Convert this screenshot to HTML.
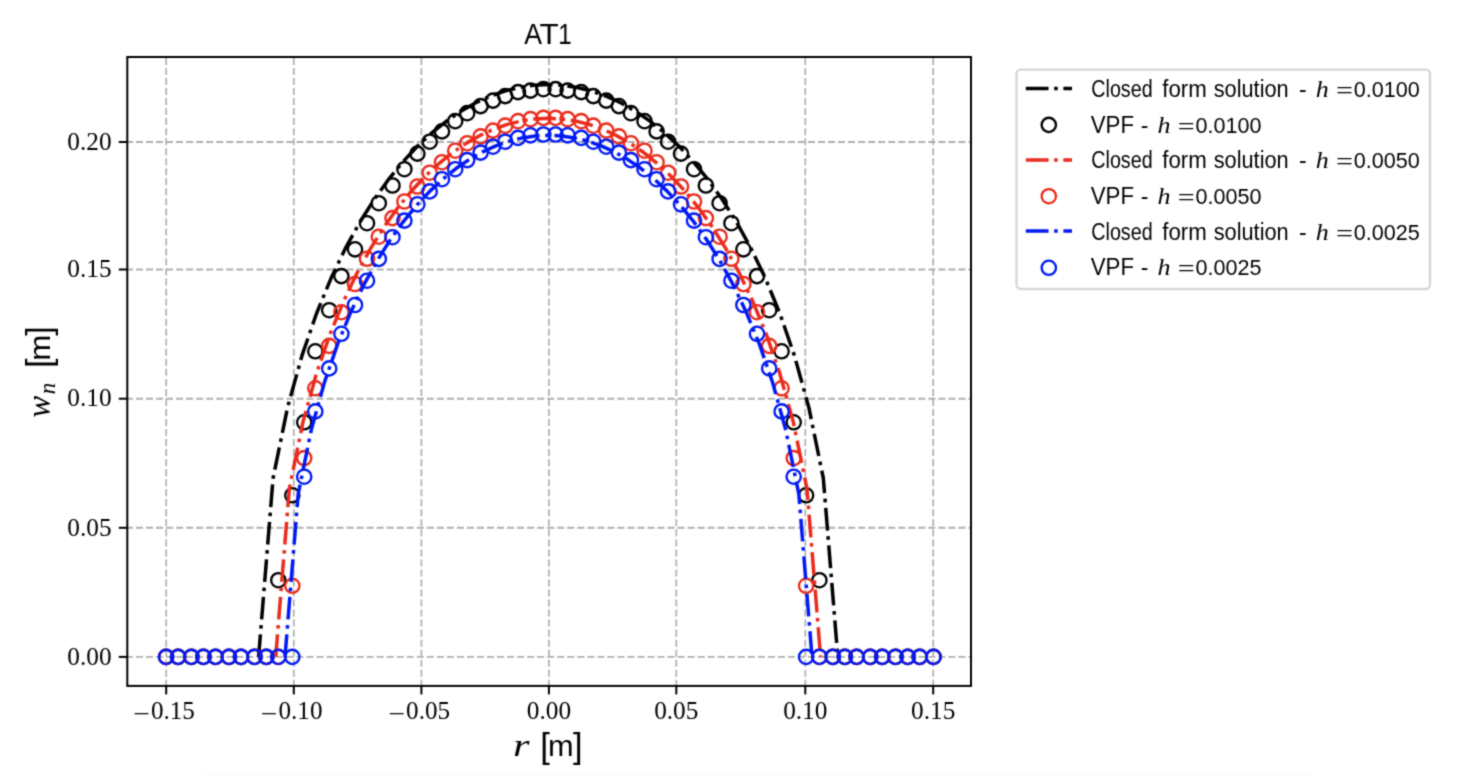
<!DOCTYPE html>
<html lang="en"><head><meta charset="utf-8"><title>AT1</title>
<style>html,body{margin:0;padding:0;background:#fff;overflow:hidden}svg{display:block}</style></head>
<body>
<svg width="1462" height="776" viewBox="0 0 1462 776">
<defs><filter id="soft" x="0" y="0" width="1462" height="776" filterUnits="userSpaceOnUse" color-interpolation-filters="sRGB"><feConvolveMatrix order="3" kernelMatrix="0.03108 0.11414 0.03108 0.11414 0.41911 0.11414 0.03108 0.11414 0.03108" edgeMode="duplicate" preserveAlpha="true"/></filter></defs>
<g filter="url(#soft)">
<rect x="0" y="0" width="1462" height="776" fill="#ffffff"/>
<path d="M198 776Q206 771 242 770.8H1300Q1314 771 1316 776Z" fill="#fdfdfd"/>
<g stroke="#b0b0b0" stroke-width="1.7" stroke-dasharray="7 3.03" stroke-dashoffset="0.9" fill="none">
<path d="M166.2 685.9V57.0"/>
<path d="M293.8 685.9V57.0"/>
<path d="M421.4 685.9V57.0"/>
<path d="M548.9 685.9V57.0"/>
<path d="M676.3 685.9V57.0"/>
<path d="M805.3 685.9V57.0"/>
<path d="M933.2 685.9V57.0"/>
</g>
<g stroke="#b0b0b0" stroke-width="1.9" stroke-dasharray="7 3.03" stroke-dashoffset="1.35" fill="none">
<path d="M127.3 656.9H971.0"/>
<path d="M127.3 527.8H971.0"/>
<path d="M127.3 398.7H971.0"/>
<path d="M127.3 269.5H971.0"/>
<path d="M127.3 142.0H971.0"/>
</g>
<g clip-path="url(#axclip)">
<polyline points="258.60,656.90 273.08,478.20 287.56,407.44 302.04,355.42 316.52,313.51 331.00,278.35 345.48,248.19 359.96,221.98 374.44,199.05 388.92,178.93 403.40,161.26 417.88,145.81 432.36,132.37 446.84,120.79 461.32,110.95 475.80,102.76 490.28,96.15 504.76,91.06 519.24,87.46 533.72,85.30 548.20,84.59 562.68,85.30 577.16,87.46 591.64,91.06 606.12,96.15 620.60,102.76 635.08,110.95 649.56,120.79 664.04,132.37 678.52,145.81 693.00,161.26 707.48,178.93 721.96,199.05 736.44,221.98 750.92,248.19 765.40,278.35 779.88,313.51 794.36,355.42 808.84,407.44 823.32,478.20 837.80,656.90" fill="none" stroke="#000000" stroke-width="3.5" stroke-dasharray="22.7 5.67 3.55 5.67" stroke-linejoin="round"/>
<g fill="none" stroke="#000000" stroke-width="2.35">
<circle cx="166.1" cy="656.9" r="7.15"/>
<circle cx="178.1" cy="656.9" r="7.15"/>
<circle cx="191.4" cy="656.9" r="7.15"/>
<circle cx="203.4" cy="656.9" r="7.15"/>
<circle cx="215.5" cy="656.9" r="7.15"/>
<circle cx="228.9" cy="656.9" r="7.15"/>
<circle cx="241.0" cy="656.9" r="7.15"/>
<circle cx="254.5" cy="656.9" r="7.15"/>
<circle cx="266.3" cy="656.9" r="7.15"/>
<circle cx="278.3" cy="580.2" r="7.15"/>
<circle cx="292.3" cy="495.3" r="7.15"/>
<circle cx="304.2" cy="422.3" r="7.15"/>
<circle cx="315.3" cy="351.3" r="7.15"/>
<circle cx="329.2" cy="310.2" r="7.15"/>
<circle cx="341.4" cy="276.1" r="7.15"/>
<circle cx="355.0" cy="249.3" r="7.15"/>
<circle cx="367.0" cy="223.2" r="7.15"/>
<circle cx="378.8" cy="203.2" r="7.15"/>
<circle cx="392.5" cy="185.5" r="7.15"/>
<circle cx="404.4" cy="169.2" r="7.15"/>
<circle cx="417.4" cy="153.6" r="7.15"/>
<circle cx="429.7" cy="141.7" r="7.15"/>
<circle cx="442.0" cy="131.4" r="7.15"/>
<circle cx="455.2" cy="121.2" r="7.15"/>
<circle cx="467.2" cy="113.2" r="7.15"/>
<circle cx="480.6" cy="106.1" r="7.15"/>
<circle cx="493.0" cy="100.6" r="7.15"/>
<circle cx="505.2" cy="96.1" r="7.15"/>
<circle cx="518.0" cy="92.1" r="7.15"/>
<circle cx="530.5" cy="90.6" r="7.15"/>
<circle cx="543.4" cy="89.2" r="7.15"/>
<circle cx="555.6" cy="89.2" r="7.15"/>
<circle cx="567.6" cy="90.6" r="7.15"/>
<circle cx="581.2" cy="92.1" r="7.15"/>
<circle cx="593.3" cy="96.1" r="7.15"/>
<circle cx="606.3" cy="100.6" r="7.15"/>
<circle cx="618.9" cy="106.1" r="7.15"/>
<circle cx="630.9" cy="113.2" r="7.15"/>
<circle cx="644.5" cy="121.2" r="7.15"/>
<circle cx="656.6" cy="131.4" r="7.15"/>
<circle cx="668.1" cy="141.7" r="7.15"/>
<circle cx="681.0" cy="153.6" r="7.15"/>
<circle cx="694.0" cy="169.2" r="7.15"/>
<circle cx="705.9" cy="185.5" r="7.15"/>
<circle cx="719.6" cy="203.2" r="7.15"/>
<circle cx="731.4" cy="223.2" r="7.15"/>
<circle cx="743.4" cy="249.3" r="7.15"/>
<circle cx="757.0" cy="276.1" r="7.15"/>
<circle cx="769.2" cy="310.2" r="7.15"/>
<circle cx="781.6" cy="351.3" r="7.15"/>
<circle cx="793.7" cy="422.3" r="7.15"/>
<circle cx="806.1" cy="495.3" r="7.15"/>
<circle cx="819.4" cy="580.2" r="7.15"/>
<circle cx="832.8" cy="656.9" r="7.15"/>
<circle cx="844.8" cy="656.9" r="7.15"/>
<circle cx="856.6" cy="656.9" r="7.15"/>
<circle cx="870.2" cy="656.9" r="7.15"/>
<circle cx="882.2" cy="656.9" r="7.15"/>
<circle cx="895.5" cy="656.9" r="7.15"/>
<circle cx="907.7" cy="656.9" r="7.15"/>
<circle cx="919.7" cy="656.9" r="7.15"/>
<circle cx="933.5" cy="656.9" r="7.15"/>
</g>
<polyline points="275.70,656.90 289.32,488.73 302.94,422.14 316.57,373.18 330.19,333.75 343.81,300.66 357.43,272.27 371.06,247.61 384.68,226.03 398.30,207.09 411.92,190.47 425.55,175.93 439.17,163.28 452.79,152.38 466.41,143.12 480.04,135.42 493.66,129.20 507.28,124.41 520.90,121.01 534.53,118.99 548.15,118.31 561.77,118.99 575.39,121.01 589.02,124.41 602.64,129.20 616.26,135.42 629.88,143.12 643.51,152.38 657.13,163.28 670.75,175.93 684.38,190.47 698.00,207.09 711.62,226.03 725.24,247.61 738.87,272.27 752.49,300.66 766.11,333.75 779.73,373.18 793.36,422.14 806.98,488.73 820.60,656.90" fill="none" stroke="#EA2B1C" stroke-width="3.5" stroke-dasharray="22.7 5.67 3.55 5.67" stroke-linejoin="round"/>
<g fill="none" stroke="#EA2B1C" stroke-width="2.35">
<circle cx="166.1" cy="656.9" r="7.15"/>
<circle cx="178.1" cy="656.9" r="7.15"/>
<circle cx="191.4" cy="656.9" r="7.15"/>
<circle cx="203.4" cy="656.9" r="7.15"/>
<circle cx="215.5" cy="656.9" r="7.15"/>
<circle cx="228.9" cy="656.9" r="7.15"/>
<circle cx="241.0" cy="656.9" r="7.15"/>
<circle cx="254.5" cy="656.9" r="7.15"/>
<circle cx="266.3" cy="656.9" r="7.15"/>
<circle cx="278.3" cy="656.9" r="7.15"/>
<circle cx="292.3" cy="585.8" r="7.15"/>
<circle cx="304.2" cy="458.1" r="7.15"/>
<circle cx="315.3" cy="388.3" r="7.15"/>
<circle cx="329.2" cy="345.9" r="7.15"/>
<circle cx="341.4" cy="312.2" r="7.15"/>
<circle cx="355.0" cy="284.0" r="7.15"/>
<circle cx="367.0" cy="258.8" r="7.15"/>
<circle cx="378.8" cy="236.7" r="7.15"/>
<circle cx="392.5" cy="218.1" r="7.15"/>
<circle cx="404.4" cy="201.5" r="7.15"/>
<circle cx="417.4" cy="186.5" r="7.15"/>
<circle cx="429.7" cy="172.7" r="7.15"/>
<circle cx="442.0" cy="162.2" r="7.15"/>
<circle cx="455.2" cy="150.7" r="7.15"/>
<circle cx="467.2" cy="143.2" r="7.15"/>
<circle cx="480.6" cy="136.4" r="7.15"/>
<circle cx="493.0" cy="130.6" r="7.15"/>
<circle cx="505.2" cy="125.7" r="7.15"/>
<circle cx="518.0" cy="121.2" r="7.15"/>
<circle cx="530.5" cy="119.2" r="7.15"/>
<circle cx="543.4" cy="117.9" r="7.15"/>
<circle cx="555.6" cy="117.9" r="7.15"/>
<circle cx="567.6" cy="119.2" r="7.15"/>
<circle cx="581.2" cy="121.2" r="7.15"/>
<circle cx="593.3" cy="125.7" r="7.15"/>
<circle cx="606.3" cy="130.6" r="7.15"/>
<circle cx="618.9" cy="136.4" r="7.15"/>
<circle cx="630.9" cy="143.2" r="7.15"/>
<circle cx="644.5" cy="150.7" r="7.15"/>
<circle cx="656.6" cy="162.2" r="7.15"/>
<circle cx="668.1" cy="172.7" r="7.15"/>
<circle cx="681.0" cy="186.5" r="7.15"/>
<circle cx="694.0" cy="201.5" r="7.15"/>
<circle cx="705.9" cy="218.1" r="7.15"/>
<circle cx="719.6" cy="236.7" r="7.15"/>
<circle cx="731.4" cy="258.8" r="7.15"/>
<circle cx="743.4" cy="284.0" r="7.15"/>
<circle cx="757.0" cy="312.2" r="7.15"/>
<circle cx="769.2" cy="345.9" r="7.15"/>
<circle cx="781.6" cy="388.3" r="7.15"/>
<circle cx="793.7" cy="458.1" r="7.15"/>
<circle cx="806.1" cy="585.8" r="7.15"/>
<circle cx="819.4" cy="656.9" r="7.15"/>
<circle cx="832.8" cy="656.9" r="7.15"/>
<circle cx="844.8" cy="656.9" r="7.15"/>
<circle cx="856.6" cy="656.9" r="7.15"/>
<circle cx="870.2" cy="656.9" r="7.15"/>
<circle cx="882.2" cy="656.9" r="7.15"/>
<circle cx="895.5" cy="656.9" r="7.15"/>
<circle cx="907.7" cy="656.9" r="7.15"/>
<circle cx="919.7" cy="656.9" r="7.15"/>
<circle cx="933.5" cy="656.9" r="7.15"/>
</g>
<polyline points="285.00,656.90 298.18,494.03 311.35,429.54 324.52,382.13 337.70,343.94 350.88,311.90 364.05,284.41 377.23,260.52 390.40,239.63 403.57,221.28 416.75,205.19 429.93,191.10 443.10,178.85 456.27,168.30 469.45,159.33 482.62,151.87 495.80,145.84 508.98,141.21 522.15,137.92 535.33,135.96 548.50,135.31 561.67,135.96 574.85,137.92 588.03,141.21 601.20,145.84 614.38,151.87 627.55,159.33 640.73,168.30 653.90,178.85 667.08,191.10 680.25,205.19 693.42,221.28 706.60,239.63 719.78,260.52 732.95,284.41 746.12,311.90 759.30,343.94 772.48,382.13 785.65,429.54 798.83,494.03 812.00,656.90" fill="none" stroke="#0019F5" stroke-width="3.5" stroke-dasharray="22.7 5.67 3.55 5.67" stroke-linejoin="round"/>
<g fill="none" stroke="#0019F5" stroke-width="2.35">
<circle cx="166.1" cy="656.9" r="7.15"/>
<circle cx="178.1" cy="656.9" r="7.15"/>
<circle cx="191.4" cy="656.9" r="7.15"/>
<circle cx="203.4" cy="656.9" r="7.15"/>
<circle cx="215.5" cy="656.9" r="7.15"/>
<circle cx="228.9" cy="656.9" r="7.15"/>
<circle cx="241.0" cy="656.9" r="7.15"/>
<circle cx="254.5" cy="656.9" r="7.15"/>
<circle cx="266.3" cy="656.9" r="7.15"/>
<circle cx="278.3" cy="656.9" r="7.15"/>
<circle cx="292.3" cy="656.9" r="7.15"/>
<circle cx="304.2" cy="476.7" r="7.15"/>
<circle cx="315.3" cy="411.4" r="7.15"/>
<circle cx="329.2" cy="368.4" r="7.15"/>
<circle cx="341.4" cy="333.8" r="7.15"/>
<circle cx="355.0" cy="305.0" r="7.15"/>
<circle cx="367.0" cy="280.7" r="7.15"/>
<circle cx="378.8" cy="258.9" r="7.15"/>
<circle cx="392.5" cy="237.2" r="7.15"/>
<circle cx="404.4" cy="220.6" r="7.15"/>
<circle cx="417.4" cy="204.3" r="7.15"/>
<circle cx="429.7" cy="191.4" r="7.15"/>
<circle cx="442.0" cy="179.2" r="7.15"/>
<circle cx="455.2" cy="169.2" r="7.15"/>
<circle cx="467.2" cy="160.1" r="7.15"/>
<circle cx="480.6" cy="152.6" r="7.15"/>
<circle cx="493.0" cy="146.7" r="7.15"/>
<circle cx="505.2" cy="141.7" r="7.15"/>
<circle cx="518.0" cy="137.9" r="7.15"/>
<circle cx="530.5" cy="135.3" r="7.15"/>
<circle cx="543.4" cy="134.5" r="7.15"/>
<circle cx="555.6" cy="134.5" r="7.15"/>
<circle cx="567.6" cy="135.3" r="7.15"/>
<circle cx="581.2" cy="137.9" r="7.15"/>
<circle cx="593.3" cy="141.7" r="7.15"/>
<circle cx="606.3" cy="146.7" r="7.15"/>
<circle cx="618.9" cy="152.6" r="7.15"/>
<circle cx="630.9" cy="160.1" r="7.15"/>
<circle cx="644.5" cy="169.2" r="7.15"/>
<circle cx="656.6" cy="179.2" r="7.15"/>
<circle cx="668.1" cy="191.4" r="7.15"/>
<circle cx="681.0" cy="204.3" r="7.15"/>
<circle cx="694.0" cy="220.6" r="7.15"/>
<circle cx="705.9" cy="237.2" r="7.15"/>
<circle cx="719.6" cy="258.9" r="7.15"/>
<circle cx="731.4" cy="280.7" r="7.15"/>
<circle cx="743.4" cy="305.0" r="7.15"/>
<circle cx="757.0" cy="333.8" r="7.15"/>
<circle cx="769.2" cy="368.4" r="7.15"/>
<circle cx="781.6" cy="411.4" r="7.15"/>
<circle cx="793.7" cy="476.7" r="7.15"/>
<circle cx="806.1" cy="656.9" r="7.15"/>
<circle cx="819.4" cy="656.9" r="7.15"/>
<circle cx="832.8" cy="656.9" r="7.15"/>
<circle cx="844.8" cy="656.9" r="7.15"/>
<circle cx="856.6" cy="656.9" r="7.15"/>
<circle cx="870.2" cy="656.9" r="7.15"/>
<circle cx="882.2" cy="656.9" r="7.15"/>
<circle cx="895.5" cy="656.9" r="7.15"/>
<circle cx="907.7" cy="656.9" r="7.15"/>
<circle cx="919.7" cy="656.9" r="7.15"/>
<circle cx="933.5" cy="656.9" r="7.15"/>
</g>
</g>
<defs><clipPath id="axclip"><rect x="127.3" y="57.0" width="843.7" height="628.9"/></clipPath></defs>
<rect x="127.3" y="57.0" width="843.7" height="628.9" fill="none" stroke="#000000" stroke-width="2"/>
<g stroke="#000000" stroke-width="2">
<path d="M166.2 685.9v8.5"/>
<path d="M293.8 685.9v8.5"/>
<path d="M421.4 685.9v8.5"/>
<path d="M548.9 685.9v8.5"/>
<path d="M676.3 685.9v8.5"/>
<path d="M805.3 685.9v8.5"/>
<path d="M933.2 685.9v8.5"/>
<path d="M127.3 656.9h-8.5"/>
<path d="M127.3 527.8h-8.5"/>
<path d="M127.3 398.7h-8.5"/>
<path d="M127.3 269.5h-8.5"/>
<path d="M127.3 142.0h-8.5"/>
</g>
<g font-family="'Liberation Serif', serif" font-size="24.6" fill="#000">
<text x="111.6" y="664.6" text-anchor="end" textLength="44.3" lengthAdjust="spacingAndGlyphs">0.00</text>
<text x="111.6" y="535.5" text-anchor="end" textLength="44.3" lengthAdjust="spacingAndGlyphs">0.05</text>
<text x="111.6" y="406.4" text-anchor="end" textLength="44.3" lengthAdjust="spacingAndGlyphs">0.10</text>
<text x="111.6" y="277.2" text-anchor="end" textLength="44.3" lengthAdjust="spacingAndGlyphs">0.15</text>
<text x="111.6" y="149.7" text-anchor="end" textLength="44.3" lengthAdjust="spacingAndGlyphs">0.20</text>
<text><tspan x="133.2" y="721.7" textLength="16.8" lengthAdjust="spacingAndGlyphs">−</tspan><tspan x="150.9" y="718.5" textLength="44.0" lengthAdjust="spacingAndGlyphs">0.15</tspan></text>
<text><tspan x="260.8" y="721.7" textLength="16.8" lengthAdjust="spacingAndGlyphs">−</tspan><tspan x="278.5" y="718.5" textLength="44.0" lengthAdjust="spacingAndGlyphs">0.10</tspan></text>
<text><tspan x="388.4" y="721.7" textLength="16.8" lengthAdjust="spacingAndGlyphs">−</tspan><tspan x="406.1" y="718.5" textLength="44.0" lengthAdjust="spacingAndGlyphs">0.05</tspan></text>
<text x="548.9" y="718.5" text-anchor="middle" textLength="44.3" lengthAdjust="spacingAndGlyphs">0.00</text>
<text x="676.3" y="718.5" text-anchor="middle" textLength="44.3" lengthAdjust="spacingAndGlyphs">0.05</text>
<text x="805.3" y="718.5" text-anchor="middle" textLength="44.3" lengthAdjust="spacingAndGlyphs">0.10</text>
<text x="933.2" y="718.5" text-anchor="middle" textLength="44.3" lengthAdjust="spacingAndGlyphs">0.15</text>
</g>
<text font-size="28.6" fill="#000" font-family="'Liberation Sans', sans-serif"><tspan x="524.3" y="44.1" textLength="17.8" lengthAdjust="spacingAndGlyphs">A</tspan><tspan x="539.6" y="44.1" textLength="19.2" lengthAdjust="spacingAndGlyphs">T</tspan><tspan x="558.3" y="44.1" textLength="13.4" lengthAdjust="spacingAndGlyphs">1</tspan></text>
<text fill="#000" font-family="'Liberation Sans', sans-serif"><tspan x="513.0" y="756.3" textLength="16.5" lengthAdjust="spacingAndGlyphs" font-size="31.5" font-style="italic" font-family="'Liberation Serif', serif">r</tspan> <tspan x="540.3" y="757.6" font-size="34.5">[</tspan><tspan x="548.0" y="756.3" textLength="25.6" lengthAdjust="spacingAndGlyphs" font-size="29">m</tspan><tspan x="573.0" y="757.6" font-size="34.5">]</tspan></text>
<g transform="translate(50.2,417.8) rotate(-90)" fill="#000">
<text font-family="'Liberation Sans', sans-serif"><tspan x="0.0" y="0.0" font-size="33" font-style="italic" font-family="'Liberation Serif', serif">w</tspan><tspan x="23.5" y="5.2" font-size="23" font-style="italic" font-family="'Liberation Serif', serif">n</tspan> <tspan x="49.8" y="0.6" font-size="34.5">[</tspan><tspan x="57.0" y="0.0" textLength="26.2" lengthAdjust="spacingAndGlyphs" font-size="29">m</tspan><tspan x="82.0" y="0.6" font-size="34.5">]</tspan></text>
</g>
<rect x="1016.5" y="69.6" width="413.5" height="219.4" rx="4.5" fill="#fff" stroke="#d6d6d6" stroke-width="2.36"/>
<path d="M1025.8 88.6H1072.0" stroke="#000000" stroke-width="3.5" stroke-dasharray="22.7 5.67 3.55 5.67" fill="none"/>
<text font-size="23" fill="#000" font-family="'Liberation Sans', sans-serif"><tspan x="1091.3" y="96.9" textLength="61.3" lengthAdjust="spacingAndGlyphs">Closed</tspan> <tspan x="1162.3" y="96.9" textLength="44.5" lengthAdjust="spacingAndGlyphs">form</tspan> <tspan x="1213.7" y="96.9" textLength="75.0" lengthAdjust="spacingAndGlyphs">solution</tspan> <tspan x="1299.0" y="96.9">-</tspan> <tspan x="1315.7" y="96.9" textLength="13.0" lengthAdjust="spacingAndGlyphs" font-size="23.6" font-style="italic" font-family="'Liberation Serif', serif">h</tspan> <tspan x="1336.0" y="98.9" textLength="17.0" lengthAdjust="spacingAndGlyphs" font-size="26" font-family="'Liberation Serif', serif">=</tspan><tspan x="1353.8" y="96.9" textLength="66.0" lengthAdjust="spacingAndGlyphs" font-size="21.8">0.0100</tspan></text>
<circle cx="1048.8" cy="124.9" r="7.15" fill="none" stroke="#000000" stroke-width="2.35"/>
<text font-size="23" fill="#000" font-family="'Liberation Sans', sans-serif"><tspan x="1090.7" y="132.6" textLength="43.3" lengthAdjust="spacingAndGlyphs">VPF</tspan> <tspan x="1140.8" y="132.6">-</tspan> <tspan x="1157.5" y="132.6" textLength="13.0" lengthAdjust="spacingAndGlyphs" font-size="23.6" font-style="italic" font-family="'Liberation Serif', serif">h</tspan> <tspan x="1177.8" y="134.6" textLength="17.0" lengthAdjust="spacingAndGlyphs" font-size="26" font-family="'Liberation Serif', serif">=</tspan><tspan x="1195.6" y="132.6" textLength="66.0" lengthAdjust="spacingAndGlyphs" font-size="21.8">0.0100</tspan></text>
<path d="M1025.8 159.9H1072.0" stroke="#EA2B1C" stroke-width="3.5" stroke-dasharray="22.7 5.67 3.55 5.67" fill="none"/>
<text font-size="23" fill="#000" font-family="'Liberation Sans', sans-serif"><tspan x="1091.3" y="168.2" textLength="61.3" lengthAdjust="spacingAndGlyphs">Closed</tspan> <tspan x="1162.3" y="168.2" textLength="44.5" lengthAdjust="spacingAndGlyphs">form</tspan> <tspan x="1213.7" y="168.2" textLength="75.0" lengthAdjust="spacingAndGlyphs">solution</tspan> <tspan x="1299.0" y="168.2">-</tspan> <tspan x="1315.7" y="168.2" textLength="13.0" lengthAdjust="spacingAndGlyphs" font-size="23.6" font-style="italic" font-family="'Liberation Serif', serif">h</tspan> <tspan x="1336.0" y="170.2" textLength="17.0" lengthAdjust="spacingAndGlyphs" font-size="26" font-family="'Liberation Serif', serif">=</tspan><tspan x="1353.8" y="168.2" textLength="66.0" lengthAdjust="spacingAndGlyphs" font-size="21.8">0.0050</tspan></text>
<circle cx="1048.8" cy="196.2" r="7.15" fill="none" stroke="#EA2B1C" stroke-width="2.35"/>
<text font-size="23" fill="#000" font-family="'Liberation Sans', sans-serif"><tspan x="1090.7" y="203.9" textLength="43.3" lengthAdjust="spacingAndGlyphs">VPF</tspan> <tspan x="1140.8" y="203.9">-</tspan> <tspan x="1157.5" y="203.9" textLength="13.0" lengthAdjust="spacingAndGlyphs" font-size="23.6" font-style="italic" font-family="'Liberation Serif', serif">h</tspan> <tspan x="1177.8" y="205.9" textLength="17.0" lengthAdjust="spacingAndGlyphs" font-size="26" font-family="'Liberation Serif', serif">=</tspan><tspan x="1195.6" y="203.9" textLength="66.0" lengthAdjust="spacingAndGlyphs" font-size="21.8">0.0050</tspan></text>
<path d="M1025.8 231.0H1072.0" stroke="#0019F5" stroke-width="3.5" stroke-dasharray="22.7 5.67 3.55 5.67" fill="none"/>
<text font-size="23" fill="#000" font-family="'Liberation Sans', sans-serif"><tspan x="1091.3" y="239.5" textLength="61.3" lengthAdjust="spacingAndGlyphs">Closed</tspan> <tspan x="1162.3" y="239.5" textLength="44.5" lengthAdjust="spacingAndGlyphs">form</tspan> <tspan x="1213.7" y="239.5" textLength="75.0" lengthAdjust="spacingAndGlyphs">solution</tspan> <tspan x="1299.0" y="239.5">-</tspan> <tspan x="1315.7" y="239.5" textLength="13.0" lengthAdjust="spacingAndGlyphs" font-size="23.6" font-style="italic" font-family="'Liberation Serif', serif">h</tspan> <tspan x="1336.0" y="241.5" textLength="17.0" lengthAdjust="spacingAndGlyphs" font-size="26" font-family="'Liberation Serif', serif">=</tspan><tspan x="1353.8" y="239.5" textLength="66.0" lengthAdjust="spacingAndGlyphs" font-size="21.8">0.0025</tspan></text>
<circle cx="1048.8" cy="267.8" r="7.15" fill="none" stroke="#0019F5" stroke-width="2.35"/>
<text font-size="23" fill="#000" font-family="'Liberation Sans', sans-serif"><tspan x="1090.7" y="275.2" textLength="43.3" lengthAdjust="spacingAndGlyphs">VPF</tspan> <tspan x="1140.8" y="275.2">-</tspan> <tspan x="1157.5" y="275.2" textLength="13.0" lengthAdjust="spacingAndGlyphs" font-size="23.6" font-style="italic" font-family="'Liberation Serif', serif">h</tspan> <tspan x="1177.8" y="277.2" textLength="17.0" lengthAdjust="spacingAndGlyphs" font-size="26" font-family="'Liberation Serif', serif">=</tspan><tspan x="1195.6" y="275.2" textLength="66.0" lengthAdjust="spacingAndGlyphs" font-size="21.8">0.0025</tspan></text>
</g>
</svg>
</body></html>
